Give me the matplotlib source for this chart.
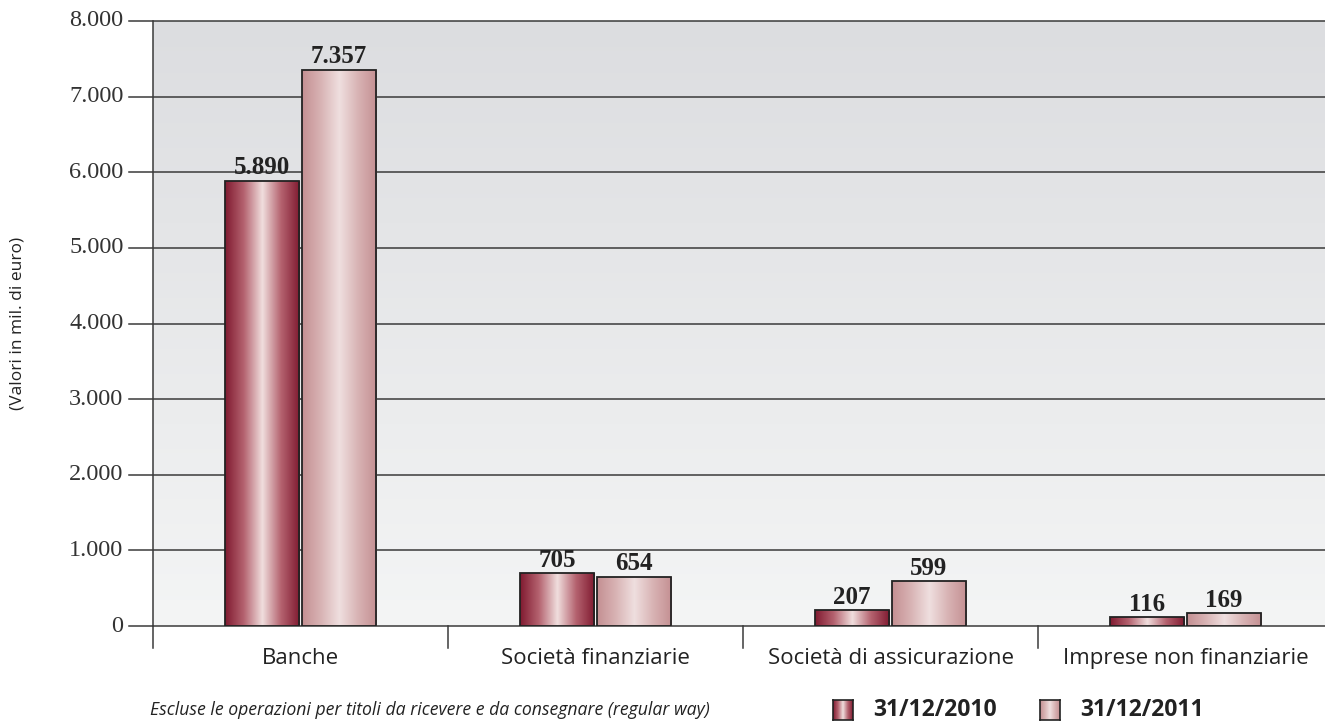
import numpy as np
import matplotlib.pyplot as plt
from matplotlib.colors import LinearSegmentedColormap
from matplotlib.patches import Rectangle

categorie = ['Banche', 'Società finanziarie', 'Società di assicurazione', 'Imprese non finanziarie']
valori_2010 = [5890, 705, 207, 116]
valori_2011 = [7357, 654, 599, 169]
etichette_2010 = ['5.890', '705', '207', '116']
etichette_2011 = ['7.357', '654', '599', '169']
yticks = [0, 1000, 2000, 3000, 4000, 5000, 6000, 7000, 8000]
ytick_labels = ['0', '1.000', '2.000', '3.000', '4.000', '5.000', '6.000', '7.000', '8.000']
serie = ['31/12/2010', '31/12/2011']

W, H = 1325, 722
fig = plt.figure(figsize=(W / 100, H / 100), dpi=100)
# axes slightly wider than the figure: the last group is cut at the right edge
x0, x1, y0, y1 = 153, 1333, 21, 626
ax = fig.add_axes([x0 / W, 1 - y1 / H, (x1 - x0) / W, (y1 - y0) / H])
ax.set_xlim(-0.5, 3.5)
ax.set_ylim(0, 8000)

# background: grey at top fading to almost white
bg = np.linspace(0, 1, 256).reshape(-1, 1)
bg_cmap = LinearSegmentedColormap.from_list('bg', ['#f4f5f5', '#dcdde0'])
ax.imshow(bg, cmap=bg_cmap, extent=(-0.5, 3.5, 0, 8000), origin='lower',
          aspect='auto', zorder=0)

cmap_2010 = LinearSegmentedColormap.from_list(
    'c2010', ['#801a30', '#b4626f', '#f0dedd', '#b4626f', '#801a30'])
cmap_2011 = LinearSegmentedColormap.from_list(
    'c2011', ['#c48f92', '#d8b3b4', '#efdfdf', '#d8b3b4', '#c48f92'])
grad = np.linspace(0, 1, 256).reshape(1, -1)

def gradient_bar(x, h, w, cmap):
    rect = Rectangle((x - w / 2, 0), w, h, facecolor='none',
                     edgecolor='#222222', lw=1.3, zorder=4)
    ax.add_patch(rect)
    im = ax.imshow(grad, cmap=cmap, extent=(x - w / 2, x + w / 2, 0, h),
                   aspect='auto', zorder=3)
    im.set_clip_path(rect)

# grid lines extend a little to the left of the y axis
for t in yticks:
    ax.plot([-0.58, 3.5], [t, t], color='#3a3a3a', lw=1.1, zorder=2, clip_on=False)

bw = 0.252
off = 0.13
pos = np.arange(len(categorie))
serif = 'Liberation Serif'
for i in pos:
    gradient_bar(i - off, valori_2010[i], bw, cmap_2010)
    gradient_bar(i + off, valori_2011[i], bw, cmap_2011)
    ax.text(i - off, valori_2010[i] + 15, etichette_2010[i], ha='center', va='bottom',
            fontsize=18, fontweight='bold', family=serif, color='#222222', zorder=5)
    ax.text(i + off, valori_2011[i] + 15, etichette_2011[i], ha='center', va='bottom',
            fontsize=18, fontweight='bold', family=serif, color='#222222', zorder=5)

# separators between groups and the y axis below the baseline
for s in [-0.5, 0.5, 1.5, 2.5]:
    ax.plot([s, s], [0, -290], color='#3a3a3a', lw=1.1, clip_on=False, zorder=2)
ax.plot([-0.5, -0.5], [0, 8000], color='#3a3a3a', lw=1.1, clip_on=False, zorder=5)

for sp in ax.spines.values():
    sp.set_visible(False)
ax.set_xticks([])
ax.set_yticks([])
for t, lab in zip(yticks, ytick_labels):
    ax.text(-0.6, t, lab, ha='right', va='center', fontsize=17.5,
            family=serif, color='#333333')
for i, c in enumerate(categorie):
    ax.text(i, -430, c, ha='center', va='center', fontsize=16,
            family='Open Sans', color='#222222')

fig.text(18 / W, 1 - 323 / H, '(Valori in mil. di euro)', rotation=90, ha='center',
         va='center', fontsize=12.5, family='Open Sans', color='#222222')
fig.text(150 / W, 1 - 710 / H,
         'Escluse le operazioni per titoli da ricevere e da consegnare (regular way)',
         ha='left', va='center', fontsize=12.7, style='italic', family='Open Sans',
         color='#222222')

# legend drawn by hand at the bottom
for lx, cmap, lab in [(833, cmap_2010, serie[0]), (1040, cmap_2011, serie[1])]:
    lax = fig.add_axes([lx / W, 1 - 720 / H, 20 / W, 20 / H])
    lax.imshow(grad, cmap=cmap, aspect='auto')
    lax.set_xticks([])
    lax.set_yticks([])
    for sp in lax.spines.values():
        sp.set_color('#222222')
        sp.set_linewidth(1.2)
    fig.text((lx + 40) / W, 1 - 710 / H, lab, ha='left', va='center', fontsize=16.5,
             fontweight='bold', family='Open Sans', color='#222222')

fig.savefig('out.png', dpi=100)
